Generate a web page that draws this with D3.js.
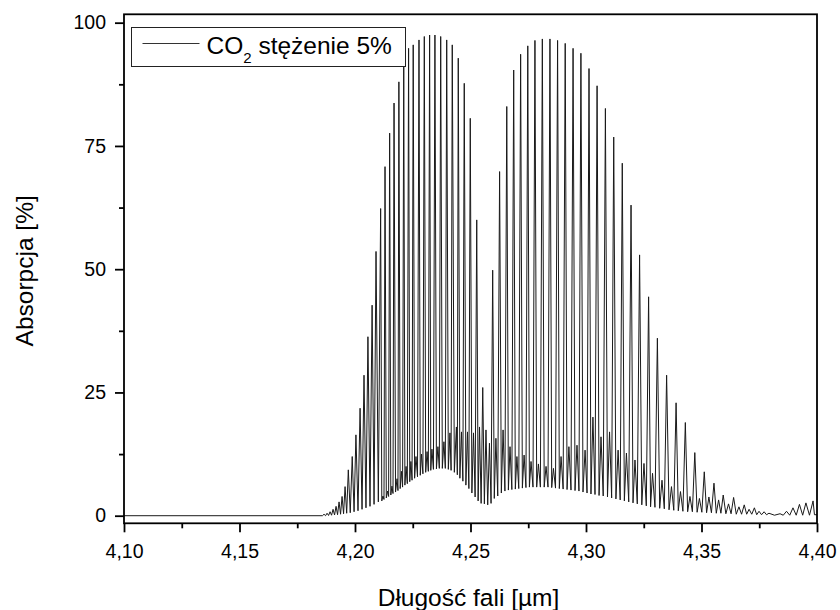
<!DOCTYPE html>
<html>
<head>
<meta charset="utf-8">
<script src="https://cdn.jsdelivr.net/npm/d3@7"></script>
<style>
  body { margin: 0; background: #fff; }
  svg { font-family: "Liberation Sans", Arial, sans-serif; }
</style>
</head>
<body>
<svg id="chart" width="840" height="610"></svg>
<script>
// strong band, short-wavelength branch: line centre [um], peak [%], valley on its left [%]
var rWave = [4.1866, 4.1879, 4.1892, 4.1905, 4.1918, 4.1931, 4.1944, 4.1957, 4.1971, 4.1988,
  4.2004, 4.2022, 4.2039, 4.2056, 4.2074, 4.2091, 4.2111, 4.2130, 4.2150, 4.2169,
  4.2190, 4.2211, 4.2232, 4.2252, 4.2277, 4.2300, 4.2323, 4.2346, 4.2371, 4.2397,
  4.2421, 4.2447, 4.2473, 4.2499, 4.2527, 4.2553];
var rPeak = [0.3, 0.5, 0.8, 1.3, 1.9, 2.8, 3.9, 5.9, 9.3, 12,
  16.4, 21.8, 28.5, 36.3, 42.7, 53.6, 62.3, 70.8, 77.6, 83.7,
  88, 91.8, 94.8, 95.5, 96.5, 97.2, 97.5, 97.5, 97.2, 96.5,
  95.5, 92.8, 87.7, 80.6, 60, 26];
var rFloor = [0, 0, 0.05, 0.1, 0.15, 0.2, 0.3, 0.4, 0.5, 0.6,
  0.8, 1.0, 1.3, 1.6, 1.9, 2.3, 2.8, 3.3, 3.9, 4.5,
  5.1, 5.8, 6.5, 7.2, 7.9, 8.5, 9.0, 9.4, 9.6, 9.6,
  9.2, 8.3, 7.0, 5.5, 3.8, 2.5];

// strong band, long-wavelength branch
var pWave = [4.2596, 4.2626, 4.2657, 4.2687, 4.2717, 4.2748, 4.2779, 4.2811, 4.2844, 4.2877,
  4.2910, 4.2944, 4.2978, 4.3013, 4.3048, 4.3084, 4.3120, 4.3157, 4.3195, 4.3232,
  4.3271, 4.3309, 4.3349, 4.3390, 4.3430, 4.3471, 4.3512, 4.3554, 4.3594, 4.3639,
  4.3685, 4.3729, 4.3771];
var pPeak = [49.8, 69.8, 83, 90.4, 93.6, 95.3, 96.4, 96.7, 96.7, 96.4,
  95.8, 94.8, 93.8, 90.7, 87.2, 82.6, 76.8, 71.5, 63, 52.9,
  44.4, 36, 28.5, 22.9, 18.9, 12.8, 8.9, 6.6, 4.2, 3.7,
  2.2, 1.6, 0.8];
var pFloor = [2.5, 4.0, 5.0, 5.3, 5.5, 5.7, 5.8, 5.8, 5.8, 5.6,
  5.4, 5.2, 5.0, 4.6, 4.3, 4.0, 3.6, 3.2, 2.8, 2.4,
  2.0, 1.7, 1.4, 1.1, 0.9, 0.8, 0.7, 0.6, 0.5, 0.4,
  0.3, 0.3, 0.2];

// weak lines sitting between the strong ones
var hotWave = [4.2121, 4.2141, 4.2160, 4.2182, 4.2201, 4.2221, 4.2242, 4.2264, 4.2288, 4.2312,
  4.2333, 4.2359, 4.2385, 4.2411, 4.2439, 4.2461, 4.2487, 4.2513, 4.2539, 4.2567,
  4.2582, 4.2610, 4.2641, 4.2671, 4.2701, 4.2732, 4.2762, 4.2794, 4.2827, 4.2859,
  4.2892, 4.2926, 4.2961, 4.2996, 4.3030, 4.3065, 4.3102, 4.3139, 4.3175, 4.3212,
  4.3251, 4.3288, 4.3329, 4.3370, 4.3409, 4.3450, 4.3491, 4.3532, 4.3574, 4.3617,
  4.3662, 4.3706, 4.3749, 4.3792];
var hotPeak = [4, 5, 6, 7.5, 9, 10, 11, 12, 12.5, 13,
  13.5, 14, 15, 16.8, 18, 17, 17, 16.8, 18, 17.4,
  14.7, 15.7, 17.4, 14, 12, 12.3, 11, 10.5, 10, 9.6,
  12, 14, 14.3, 13.3, 20, 16, 17, 13.3, 12.7, 11.3,
  10.6, 8.6, 7.2, 5.9, 4.9, 3.9, 3.5, 3.8, 3.2, 2.4,
  1.8, 1.3, 0.9, 0.5];
var hotFloor = [3.0, 3.6, 4.2, 4.8, 5.5, 6.2, 6.9, 7.6, 8.2, 8.8,
  9.2, 9.5, 9.6, 9.4, 8.8, 7.6, 6.2, 4.6, 3.0, 2.4,
  2.2, 3.5, 4.6, 5.2, 5.4, 5.6, 5.8, 5.8, 5.8, 5.7,
  5.5, 5.3, 5.1, 4.8, 4.4, 4.1, 3.8, 3.4, 3.0, 2.6,
  2.2, 1.8, 1.5, 1.2, 1.0, 0.8, 0.7, 0.6, 0.5, 0.4,
  0.3, 0.3, 0.2, 0.2];

// small lines at the right edge
var isoWave = [4.3840, 4.3868, 4.3896, 4.3924, 4.3952, 4.3983];
var isoPeak = [0.4, 0.9, 1.6, 2.3, 2.6, 3.0];
var isoFloor = [0.1, 0.1, 0.1, 0.1, 0.1, 0.1];

// ends of the trace
var edgeWave = [4.10, 4.40];
var edgeLevel = [0, 0.2];

var xTicks = [4.10, 4.15, 4.20, 4.25, 4.30, 4.35, 4.40];
var xMinor = [4.125, 4.175, 4.225, 4.275, 4.325, 4.375];
var yTicks = [0, 25, 50, 75, 100];
var yMinor = [12.5, 37.5, 62.5, 87.5];

var seriesName = 'CO';
var xTitle = 'Długość fali [µm]';
var yTitle = 'Absorpcja [%]';

(function(){

  var svg = d3.select('#chart');
  var plotL = 124, plotR = 817, plotT = 14.3, plotB = 523.3;

  var x = d3.scaleLinear().domain([4.10, 4.40]).range([plotL, plotR]);
  var y = d3.scaleLinear().domain([-1.54, 101.7]).range([plotB, plotT]);

  function band(waves, peaks, floors) {
    return waves.map(function(w, i) { return {wave: w, peak: peaks[i], floor: floors[i]}; });
  }

  var lines = [].concat(
    band(rWave, rPeak, rFloor),
    band(pWave, pPeak, pFloor),
    band(hotWave, hotPeak, hotFloor),
    band(isoWave, isoPeak, isoFloor)
  ).sort(function(a, b) { return a.wave - b.wave; });

  // each line: its left valley (halfway to the previous line), then its peak
  var pts = [[edgeWave[0], edgeLevel[0]]];
  var prev = edgeWave[0];
  lines.forEach(function(l, i) {
    var gap = i === 0 ? 0.0007 : (l.wave - prev) / 2;
    pts.push([l.wave - gap, l.floor], [l.wave, l.peak]);
    prev = l.wave;
  });
  pts.push([prev + 0.0006, edgeLevel[1]], [edgeWave[1], edgeLevel[1]]);

  svg.append('clipPath').attr('id', 'plot')
    .append('rect')
    .attr('x', plotL).attr('y', plotT)
    .attr('width', plotR - plotL).attr('height', plotB - plotT);

  svg.append('path')
    .datum(pts)
    .attr('clip-path', 'url(#plot)')
    .attr('fill', 'none')
    .attr('stroke', '#1a1a1a')
    .attr('stroke-width', 1)
    .attr('stroke-linejoin', 'round')
    .attr('d', d3.line().x(function(d){return x(d[0])}).y(function(d){return y(d[1])}));

  // axes
  var comma = function(d){ return d3.format('.2f')(d).replace('.', ','); };

  svg.append('g').attr('transform', 'translate(0,' + plotB + ')')
    .call(d3.axisBottom(x).tickValues(xTicks).tickFormat(comma).tickSize(9).tickPadding(12));
  svg.append('g').attr('transform', 'translate(0,' + plotB + ')')
    .call(d3.axisBottom(x).tickValues(xMinor).tickFormat('').tickSize(5));

  svg.append('g').attr('transform', 'translate(' + plotL + ',0)')
    .call(d3.axisLeft(y).tickValues(yTicks).tickSize(9).tickPadding(9));
  svg.append('g').attr('transform', 'translate(' + plotL + ',0)')
    .call(d3.axisLeft(y).tickValues(yMinor).tickFormat('').tickSize(5));

  svg.selectAll('.domain').remove();
  svg.selectAll('.tick line').attr('stroke', '#000').attr('stroke-width', 1.8);
  svg.selectAll('.tick text')
    .style('font-size', '19.5px')
    .style('font-family', '"Liberation Sans", Arial, sans-serif')
    .attr('fill', '#000');

  // frame
  svg.append('rect')
    .attr('x', plotL).attr('y', plotT)
    .attr('width', plotR - plotL).attr('height', plotB - plotT)
    .attr('fill', 'none')
    .attr('stroke', '#000')
    .attr('stroke-width', 1.8);

  // titles
  svg.append('text')
    .attr('x', (plotL + plotR) / 2 - 2)
    .attr('y', 606)
    .attr('text-anchor', 'middle')
    .style('font-size', '24.5px')
    .text(xTitle);

  svg.append('text')
    .attr('transform', 'translate(33,' + ((plotT + plotB) / 2 + 2) + ') rotate(-90)')
    .attr('text-anchor', 'middle')
    .style('font-size', '24.5px')
    .text(yTitle);

  // legend
  var legend = svg.append('g');
  legend.append('rect')
    .attr('x', 131.5).attr('y', 27.5)
    .attr('width', 274).attr('height', 39)
    .attr('fill', '#fff')
    .attr('stroke', '#222')
    .attr('stroke-width', 1);
  legend.append('line')
    .attr('x1', 142.5).attr('x2', 199.5)
    .attr('y1', 43.5).attr('y2', 43.5)
    .attr('stroke', '#333')
    .attr('stroke-width', 1);
  var label = legend.append('text')
    .attr('x', 206.5).attr('y', 53.5)
    .style('font-size', '24.5px');
  label.append('tspan').text(seriesName);
  label.append('tspan').style('font-size', '15px').attr('dy', 9).text('2');
  label.append('tspan').attr('dy', -9).text(' stężenie 5%');

})();
</script>
</body>
</html>
